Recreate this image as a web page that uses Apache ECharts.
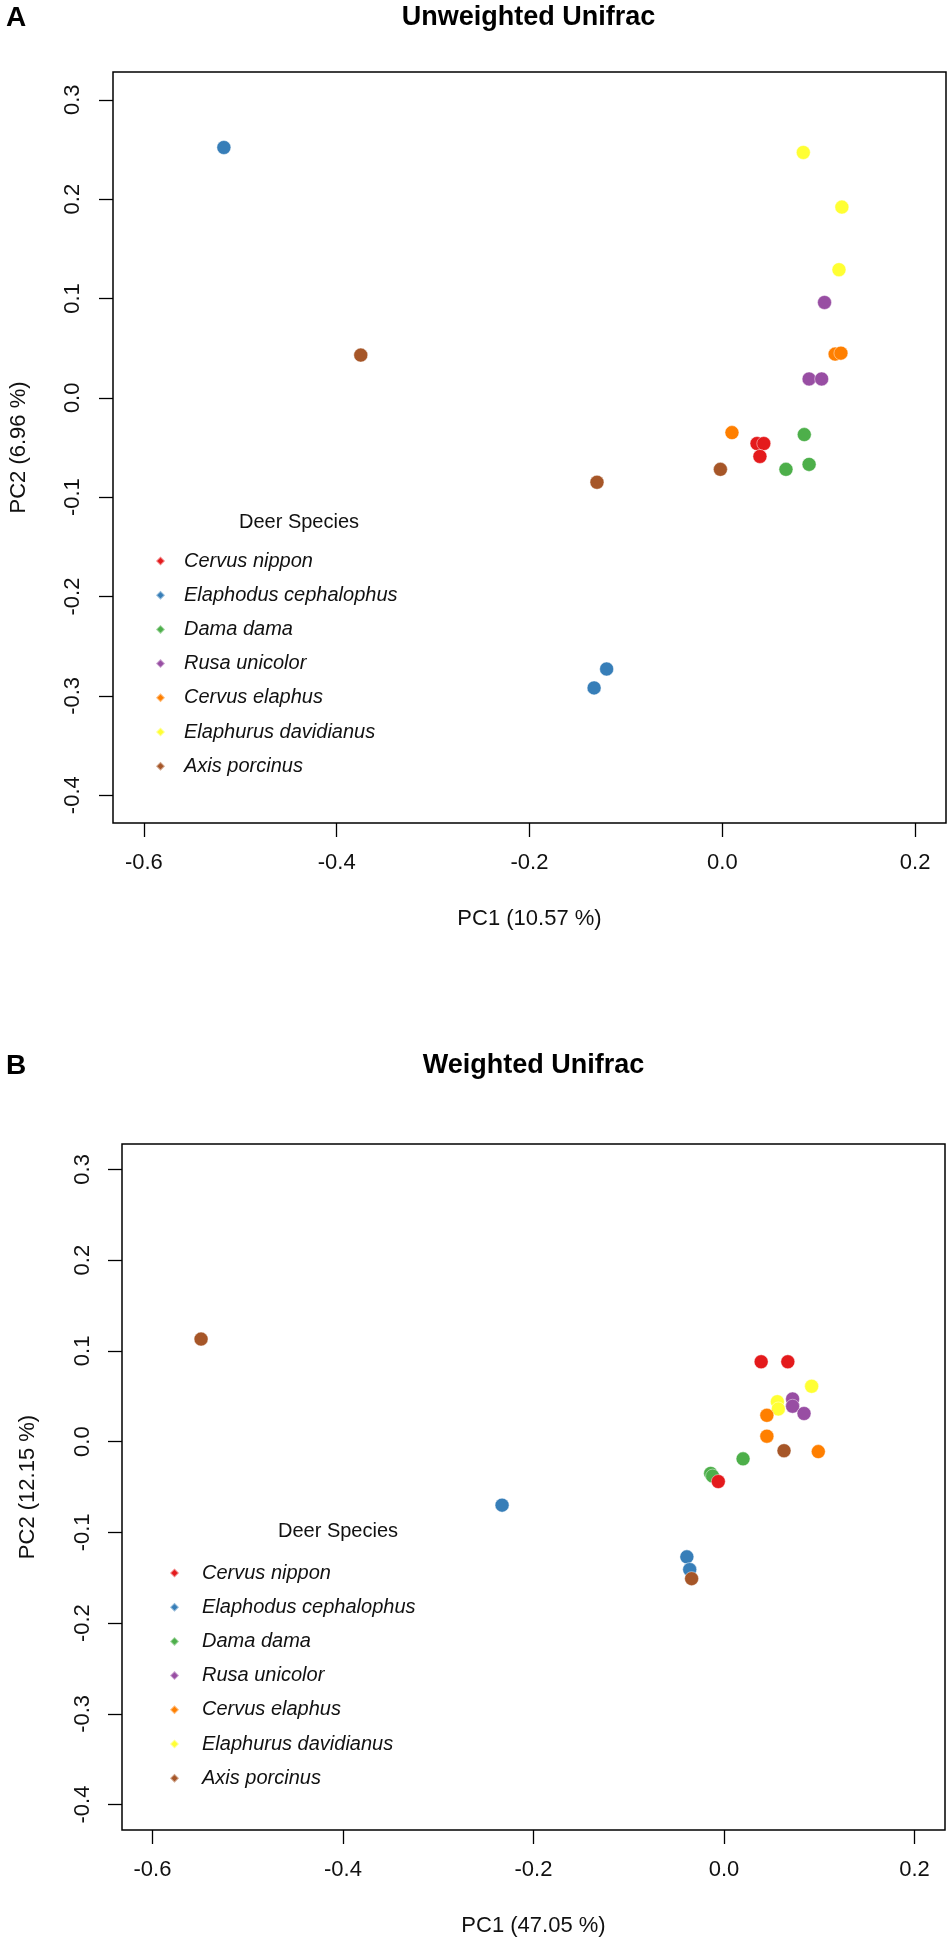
<!DOCTYPE html>
<html>
<head>
<meta charset="utf-8">
<script src="https://cdn.jsdelivr.net/npm/echarts@6/dist/echarts.min.js"></script>
<style>
  html, body { margin: 0; padding: 0; background: #fff; }
  #chart { width: 950px; height: 1947px; }
</style>
</head>
<body>
<div id="chart"></div>
<script>
// species in legend order, R Set1 colours
const species = ['Cervus nippon', 'Elaphodus cephalophus', 'Dama dama', 'Rusa unicolor',
  'Cervus elaphus', 'Elaphurus davidianus', 'Axis porcinus'];
const speciesColors = ['#E41A1C', '#377EB8', '#4DAF4A', '#984EA3', '#FF7F00', '#FFFF33', '#A65628'];

const xTicks = [-0.6, -0.4, -0.2, 0.0, 0.2];
const yTicks = [-0.4, -0.3, -0.2, -0.1, 0.0, 0.1, 0.2, 0.3];

const panelTitles = ['Unweighted Unifrac', 'Weighted Unifrac'];
const panelLetters = ['A', 'B'];
const pc1Labels = ['PC1 (10.57 %)', 'PC1 (47.05 %)'];
const pc2Labels = ['PC2 (6.96 %)', 'PC2 (12.15 %)'];

// unweighted unifrac, [PC1, PC2]
const uwNippon = [[0.036, -0.046], [0.043, -0.046], [0.039, -0.059]];
const uwElaphodus = [[-0.517, 0.252], [-0.120, -0.273], [-0.133, -0.292]];
const uwDama = [[0.085, -0.037], [0.066, -0.072], [0.090, -0.067]];
const uwRusa = [[0.106, 0.096], [0.090, 0.019], [0.103, 0.019]];
const uwElaphus = [[0.010, -0.035], [0.117, 0.044], [0.123, 0.045]];
const uwElaphurus = [[0.084, 0.247], [0.124, 0.192], [0.121, 0.129]];
const uwAxis = [[-0.375, 0.043], [-0.002, -0.072], [-0.130, -0.085]];

// weighted unifrac, [PC1, PC2]
const wNippon = [[0.039, 0.088], [0.067, 0.088], [-0.006, -0.044]];
const wElaphodus = [[-0.233, -0.070], [-0.039, -0.127], [-0.036, -0.141]];
const wDama = [[0.020, -0.019], [-0.014, -0.035], [-0.012, -0.038]];
const wRusa = [[0.072, 0.047], [0.072, 0.039], [0.084, 0.031]];
const wElaphus = [[0.045, 0.029], [0.045, 0.006], [0.099, -0.011]];
const wElaphurus = [[0.092, 0.061], [0.056, 0.044], [0.057, 0.036]];
const wAxis = [[-0.549, 0.113], [0.063, -0.010], [-0.034, -0.151]];

const panelData = [
  [uwNippon, uwElaphodus, uwDama, uwRusa, uwElaphus, uwElaphurus, uwAxis],
  [wNippon, wElaphodus, wDama, wRusa, wElaphus, wElaphurus, wAxis]
];

// drawing order (later on top)
const drawOrder = [2, 1, 5, 4, 3, 0, 6];

const FONT = '"Liberation Sans", Arial, sans-serif';

// panel layout
const grids = [
  { left: 111, top: 72, width: 835, height: 751 },
  { left: 122, top: 1144, width: 823, height: 686 }
];
const layout = [
  { titleY: 18, letterY: 18, legendLeft: 155, legendTop: 551, legendPad: 14, headX: 299, headY: 522, yLabelMargin: 29, yNameGap: 83 },
  { titleY: 1066, letterY: 1066, legendLeft: 169, legendTop: 1563, legendPad: 18, headX: 338, headY: 1531, yLabelMargin: 28, yNameGap: 83 }
];

const chart = echarts.init(document.getElementById('chart'), null, { renderer: 'canvas' });

const fmt = v => v.toFixed(1);

const xAxes = grids.map((g, i) => ({
  type: 'value',
  gridIndex: i,
  position: 'bottom',
  min: -0.632,
  max: 0.232,
  splitLine: { show: false },
  axisLine: { show: false, onZero: false },
  axisTick: { show: true, inside: false, length: 14, customValues: xTicks, lineStyle: { color: '#000', width: 1.3 } },
  axisLabel: { customValues: xTicks, formatter: fmt, margin: 29, color: '#111', fontSize: 22, fontFamily: FONT },
  name: pc1Labels[i],
  nameLocation: 'middle',
  nameGap: 85,
  nameTextStyle: { color: '#111', fontSize: 22, fontFamily: FONT }
}));

const yAxes = grids.map((g, i) => ({
  type: 'value',
  gridIndex: i,
  position: 'left',
  min: -0.428,
  max: 0.328,
  splitLine: { show: false },
  axisLine: { show: false, onZero: false },
  axisTick: { show: true, inside: false, length: 14, customValues: yTicks, lineStyle: { color: '#000', width: 1.3 } },
  axisLabel: { customValues: yTicks, formatter: fmt, rotate: 90, margin: layout[i].yLabelMargin, color: '#111', fontSize: 22, fontFamily: FONT },
  name: pc2Labels[i],
  nameLocation: 'middle',
  nameGap: layout[i].yNameGap,
  nameTextStyle: { color: '#111', fontSize: 22, fontFamily: FONT }
}));

const series = [];
panelData.forEach((groups, p) => {
  drawOrder.forEach(k => {
    series.push({
      type: 'scatter',
      name: species[k],
      xAxisIndex: p,
      yAxisIndex: p,
      data: groups[k],
      symbol: 'circle',
      symbolSize: 14,
      itemStyle: {
        color: speciesColors[k],
        opacity: 1,
        borderColor: 'rgba(255,255,255,0.45)',
        borderWidth: 1
      }
    });
  });
});

const legends = layout.map(l => ({
  data: species.map((s, k) => ({ name: s, itemStyle: { color: speciesColors[k] } })),
  orient: 'vertical',
  left: l.legendLeft,
  top: l.legendTop,
  padding: 0,
  icon: 'diamond',
  itemWidth: 9,
  itemHeight: 9,
  itemGap: 14.2,
  selectedMode: false,
  textStyle: {
    fontFamily: FONT,
    fontSize: 20,
    fontStyle: 'italic',
    color: '#111',
    lineHeight: 20,
    padding: [0, 0, 0, l.legendPad]
  }
}));

const graphics = [];
layout.forEach((l, i) => {
  const g = grids[i];
  graphics.push({
    type: 'text', x: g.left + g.width / 2, y: l.titleY,
    style: { text: panelTitles[i], font: 'bold 27px ' + FONT, fill: '#000', textAlign: 'center', textVerticalAlign: 'middle' }
  });
  graphics.push({
    type: 'text', x: 6, y: l.letterY,
    style: { text: panelLetters[i], font: 'bold 28px ' + FONT, fill: '#000', textAlign: 'left', textVerticalAlign: 'middle' }
  });
  graphics.push({
    type: 'text', x: l.headX, y: l.headY,
    style: { text: 'Deer Species', font: '20px ' + FONT, fill: '#111', textAlign: 'center', textVerticalAlign: 'middle' }
  });
});

chart.setOption({
  animation: false,
  backgroundColor: '#fff',
  grid: grids.map(g => Object.assign({ show: true, borderColor: '#000', borderWidth: 1.5, backgroundColor: 'transparent', containLabel: false }, g)),
  xAxis: xAxes,
  yAxis: yAxes,
  legend: legends,
  series: series,
  graphic: graphics
});
</script>
</body>
</html>
